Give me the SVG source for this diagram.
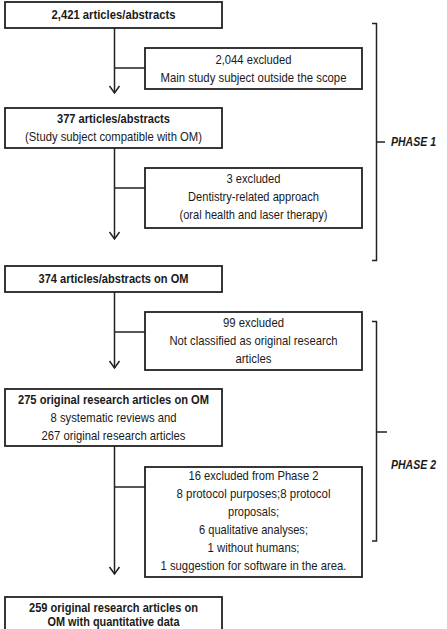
<svg xmlns="http://www.w3.org/2000/svg" width="447" height="629" viewBox="0 0 447 629">
<defs>
<style>
.box{fill:#fff;stroke:#222;stroke-width:1.8}
.ln{fill:none;stroke:#222;stroke-width:1.5}
.ah{fill:none;stroke:#222;stroke-width:1.5;stroke-linejoin:miter}
text{font-family:"Liberation Sans",Arial,sans-serif;font-size:13.5px;fill:#1a1a1a;text-anchor:middle}
.b{font-weight:bold}
.ph{font-weight:bold;font-style:italic;text-anchor:start;font-size:12px}
</style>
</defs>
<g id="connectors">
<path class="ln" d="M114.5,28 V93 M114.5,68 H145"/>
<path class="ah" d="M109.5,86 L114.5,93 L119.5,86"/>
<path class="ln" d="M114.5,148 V239 M114.5,188 H145"/>
<path class="ah" d="M109.5,232 L114.5,239 L119.5,232"/>
<path class="ln" d="M114.5,292 V368 M114.5,332 H145"/>
<path class="ah" d="M109.5,361 L114.5,368 L119.5,361"/>
<path class="ln" d="M114.5,446 V574 M114.5,487 H145"/>
<path class="ah" d="M109.5,567 L114.5,574 L119.5,567"/>
</g>
<g id="phase1">
<path class="ln" d="M372,23.5 H376.5 V260.5 H372 M376.5,142 H385"/>
<text class="ph" x="391" y="146" textLength="45" lengthAdjust="spacingAndGlyphs">PHASE 1</text>
</g>
<g id="phase2">
<path class="ln" d="M372,321.5 H376.5 V541 H372 M376.5,432 H387"/>
<text class="ph" x="391" y="469" textLength="45" lengthAdjust="spacingAndGlyphs">PHASE 2</text>
</g>
<g id="n1">
<rect class="box" x="5" y="2" width="217" height="26"/>
<text class="b" x="113.5" y="19" textLength="124" lengthAdjust="spacingAndGlyphs">2,421 articles/abstracts</text>
</g>
<g id="e1">
<rect class="box" x="145" y="48" width="217" height="41"/>
<text x="253.5" y="64" textLength="76" lengthAdjust="spacingAndGlyphs">2,044 excluded</text>
<text x="253.5" y="82" textLength="186" lengthAdjust="spacingAndGlyphs">Main study subject outside the scope</text>
</g>
<g id="n2">
<rect class="box" x="5" y="108" width="217" height="40"/>
<text class="b" x="113.5" y="123" textLength="113" lengthAdjust="spacingAndGlyphs">377 articles/abstracts</text>
<text x="113.5" y="141" textLength="177" lengthAdjust="spacingAndGlyphs">(Study subject compatible with OM)</text>
</g>
<g id="e2">
<rect class="box" x="145" y="168" width="217" height="60"/>
<text x="253.5" y="183" textLength="54" lengthAdjust="spacingAndGlyphs">3 excluded</text>
<text x="253.5" y="201" textLength="131" lengthAdjust="spacingAndGlyphs">Dentistry-related approach</text>
<text x="253.5" y="219" textLength="148" lengthAdjust="spacingAndGlyphs">(oral health and laser therapy)</text>
</g>
<g id="n3">
<rect class="box" x="5" y="266" width="217" height="26"/>
<text class="b" x="113.5" y="283" textLength="150" lengthAdjust="spacingAndGlyphs">374 articles/abstracts on OM</text>
</g>
<g id="e3">
<rect class="box" x="145" y="312" width="217" height="58"/>
<text x="253.5" y="327" textLength="61" lengthAdjust="spacingAndGlyphs">99 excluded</text>
<text x="253.5" y="345" textLength="168" lengthAdjust="spacingAndGlyphs">Not classified as original research</text>
<text x="253.5" y="363" textLength="36" lengthAdjust="spacingAndGlyphs">articles</text>
</g>
<g id="n4">
<rect class="box" x="5" y="389" width="217" height="57"/>
<text class="b" x="113.5" y="404" textLength="191" lengthAdjust="spacingAndGlyphs">275 original research articles on OM</text>
<text x="113.5" y="422" textLength="126" lengthAdjust="spacingAndGlyphs">8 systematic reviews and</text>
<text x="113.5" y="440" textLength="144" lengthAdjust="spacingAndGlyphs">267 original research articles</text>
</g>
<g id="e4">
<rect class="box" x="145" y="467" width="217" height="110"/>
<text x="253.5" y="480" textLength="130" lengthAdjust="spacingAndGlyphs">16 excluded from Phase 2</text>
<text x="253.5" y="498" textLength="154" lengthAdjust="spacingAndGlyphs">8 protocol purposes;8 protocol</text>
<text x="253.5" y="516" textLength="51" lengthAdjust="spacingAndGlyphs">proposals;</text>
<text x="253.5" y="534" textLength="109" lengthAdjust="spacingAndGlyphs">6 qualitative analyses;</text>
<text x="253.5" y="552" textLength="92" lengthAdjust="spacingAndGlyphs">1 without humans;</text>
<text x="253.5" y="570" textLength="186" lengthAdjust="spacingAndGlyphs">1 suggestion for software in the area.</text>
</g>
<g id="n5">
<rect class="box" x="5" y="597" width="217" height="40"/>
<text class="b" x="113.5" y="612" textLength="169" lengthAdjust="spacingAndGlyphs">259 original research articles on</text>
<text class="b" x="113.5" y="626" textLength="132" lengthAdjust="spacingAndGlyphs">OM with quantitative data</text>
</g>
</svg>
